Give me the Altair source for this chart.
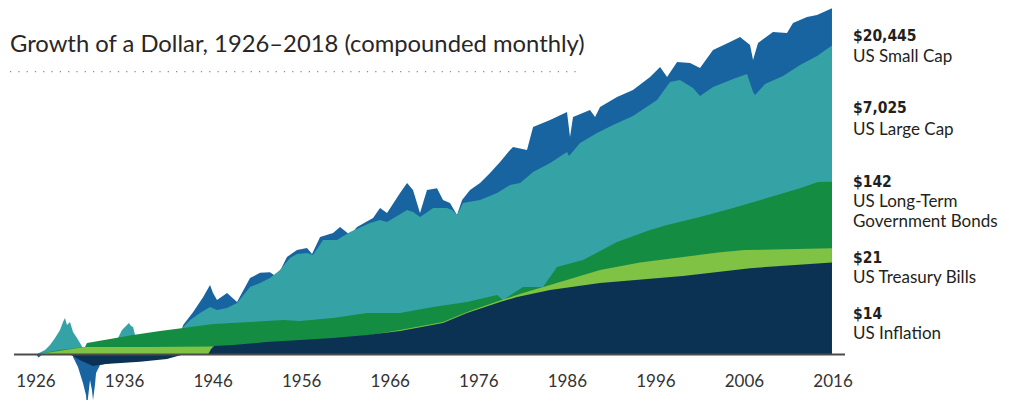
import altair as alt
import pandas as pd

# ---------------- data (growth of $1) ----------------
small_years = [1926.0, 1926.3, 1926.6, 1927.0, 1928.15, 1929.05, 1929.27, 1929.84, 1930.18, 1930.74,
               1931.31, 1931.65, 1931.76, 1931.87, 1932.10, 1932.32, 1932.44, 1932.66, 1932.78, 1933.23,
               1934.36, 1934.92, 1935.26, 1936.5, 1937.2, 1938.5, 1940.0, 1941.5, 1942.2, 1942.62,
               1943.75, 1944.88, 1945.65, 1945.99, 1946.44, 1947.57, 1948.70, 1950.17, 1951.30, 1952.42,
               1953.21, 1954.34, 1955.47, 1956.60, 1957.17, 1958.08, 1959.54, 1960.33, 1961.46, 1962.25,
               1964.06, 1964.85, 1965.64, 1967.11, 1967.90, 1968.57, 1969.36, 1970.15, 1971.28, 1971.96,
               1972.75, 1973.54, 1974.11, 1975.01, 1976.14, 1977.27, 1978.40, 1979.53, 1979.87, 1981.44,
               1982.13, 1984.05, 1985.96, 1986.30, 1986.64, 1988.56, 1989.13, 1989.69, 1991.61, 1993.41,
               1995.34, 1996.47, 1997.26, 1998.39, 1999.86, 2000.98, 2002.45, 2004.37, 2005.50, 2006.63,
               2006.97, 2007.53, 2009.22, 2010.80, 2011.48, 2013.06, 2014.19, 2015.88]
small_vals = [1.00, 0.92, 0.98, 1.08, 1.45, 2.1, 2.3, 1.9, 0.93, 0.70,
              0.44, 0.31, 0.216, 0.287, 0.48, 0.36, 0.27, 0.42, 0.59, 0.74,
              0.78, 0.80, 0.96, 1.9, 1.3, 1.2, 1.3, 1.4, 1.7, 2.33,
              3.38, 5.20, 7.34, 5.83, 4.77, 5.83, 4.51, 8.97, 10.4, 10.6,
              9.23, 16.4, 20.0, 21.2, 17.9, 29.1, 32.6, 38.7, 30.8, 38.7,
              50.1, 66.7, 57.8, 103, 137, 112, 57.8, 112, 118, 84.0,
              77.1, 54.6, 84.0, 112, 137, 182, 249, 352, 384, 352,
              681, 832, 1047, 512, 907, 1107, 907, 1208, 1611, 1968,
              2858, 3804, 2858, 4395, 4266, 3698, 6194, 7796, 8995, 7145,
              4645, 7568, 10380, 10090, 13430, 15960, 16900, 20445]

large_years = [1926.0, 1927.02, 1927.58, 1928.15, 1928.71, 1929.05, 1929.27, 1929.50, 1929.84, 1930.18,
               1930.63, 1930.97, 1931.31, 1931.65, 1932.10, 1932.66, 1933.23, 1934.13, 1934.70, 1935.26,
               1935.71, 1936.16, 1936.50, 1936.73, 1936.96, 1937.18, 1937.52, 1938.31, 1939.44, 1940.58,
               1941.71, 1942.62, 1943.41, 1944.52, 1945.65, 1946.44, 1947.57, 1948.70, 1950.17, 1951.30,
               1952.42, 1953.55, 1954.68, 1955.47, 1956.60, 1957.28, 1958.42, 1959.99, 1961.46, 1963.72,
               1964.85, 1965.64, 1967.9, 1968.59, 1969.38, 1970.84, 1972.41, 1973.0, 1973.54, 1974.22,
               1976.14, 1978.06, 1979.53, 1980.66, 1982.13, 1984.05, 1985.96, 1986.19, 1987.43, 1989.35,
               1991.15, 1993.41, 1996.12, 1997.59, 1998.72, 2000.19, 2000.98, 2002.45, 2004.71, 2006.29,
               2006.97, 2007.19, 2008.32, 2010.35, 2012.27, 2014.19, 2015.88]
large_vals = [1.00, 1.14, 1.31, 1.60, 2.02, 2.54, 2.85, 2.33, 2.54, 1.91,
              1.60, 1.39, 1.20, 0.96, 0.83, 0.85, 0.90, 1.07, 1.35, 1.60,
              2.02, 2.26, 2.47, 2.26, 2.20, 1.75, 1.43, 1.52, 1.60, 1.52,
              1.60, 2.20, 2.69, 3.29, 3.90, 3.58, 3.79, 4.38, 6.93, 7.77,
              8.97, 11.3, 15.9, 17.9, 18.4, 17.3, 26.7, 26.7, 33.6, 43.4,
              47.3, 44.7, 63.1, 59.5, 51.6, 66.7, 66.7, 63.1, 54.6, 77.1,
              84.0, 103, 129, 137, 188, 243, 333, 297, 430, 573,
              721, 934, 1476, 2477, 2620, 2083, 1656, 2143, 2698, 3112,
              1858, 1702, 2334, 2938, 4027, 5212, 7025]

bond_years = [1926.0, 1928.71, 1931.53, 1931.76, 1934.36, 1936.95, 1940.0, 1942.62, 1945.99, 1950.17,
              1953.89, 1955.8, 1959.54, 1963.38, 1967.11, 1970.84, 1974.67, 1978.06, 1978.74, 1980.99,
              1983.25, 1984.83, 1987.77, 1991.61, 1995.34, 1997.26, 2000.98, 2004.71, 2008.54, 2012.27,
              2014.30, 2015.88]
bond_vals = [1.00, 1.14, 1.24, 1.39, 1.56, 1.75, 1.96, 2.14, 2.40, 2.54,
             2.69, 2.61, 2.85, 3.29, 3.29, 3.90, 4.51, 5.51, 4.77, 6.93,
             6.93, 12.3, 15.0, 25.2, 35.5, 41.0, 51.6, 66.7, 88.9, 118,
             141, 142]

bill_years = [1926.0, 1928.71, 1931.53, 1938.87, 1945.65, 1950.17, 1955.8, 1959.54, 1963.38, 1967.11,
              1971.96, 1974.67, 1978.40, 1980.99, 1984.05, 1989.69, 1994.2, 1999.06, 2003.0, 2006.0,
              2015.88]
bill_vals = [1.00, 1.11, 1.24, 1.24, 1.26, 1.30, 1.42, 1.55, 1.72, 2.02,
             2.54, 3.38, 4.70, 5.83, 7.34, 11.3, 14.0, 16.4, 18.6, 20.0,
             21.0]

infl_years = [1926.0, 1929.8, 1930.18, 1930.97, 1932.44, 1933.79, 1935.15, 1937.74, 1940.79, 1942.49,
              1945.42, 1945.77, 1946.1, 1948.25, 1952.0, 1955.8, 1959.54, 1963.38, 1967.11, 1971.96,
              1974.67, 1978.40, 1980.32, 1984.05, 1989.69, 1999.06, 2006.63, 2015.88]
infl_vals = [1.00, 1.00, 0.96, 0.85, 0.72, 0.76, 0.78, 0.81, 0.88, 0.99,
             1.00, 1.17, 1.28, 1.31, 1.43, 1.52, 1.60, 1.75, 1.96, 2.47,
             3.29, 4.51, 5.20, 6.36, 7.77, 9.50, 11.9, 14.0]

tick_years = [1926, 1936, 1946, 1956, 1966, 1976, 1986, 1996, 2006, 2016]

end_values = ["$20,445", "$7,025", "$142", "$21", "$14"]
series_names = [["US Small Cap"], ["US Large Cap"], ["US Long-Term", "Government Bonds"],
                ["US Treasury Bills"], ["US Inflation"]]
colors = ["#1764a0", "#35a3a6", "#148c42", "#80c243", "#0b3253"]
title_text = "Growth of a Dollar, 1926\u20132018 (compounded monthly)"

# ---------------- chart ----------------
W, H = 990, 392
xscale = alt.Scale(domain=[1922.838, 2034.628], nice=False, zero=False)
yscale = alt.Scale(type="log", domain=[0.2713, 20660], nice=False)

series = [(small_years, small_vals), (large_years, large_vals), (bond_years, bond_vals),
          (bill_years, bill_vals), (infl_years, infl_vals)]

layers = []
for (yrs, vals), col in zip(series, colors):
    df = pd.DataFrame({"year": yrs, "value": vals})
    layers.append(
        alt.Chart(df).mark_area(color=col, opacity=1, interpolate="linear").encode(
            x=alt.X("year:Q", scale=xscale, axis=None),
            y=alt.Y("value:Q", scale=yscale, axis=None),
            y2=alt.datum(1),
        )
    )

one = pd.DataFrame({"k": [0]})
layers.append(
    alt.Chart(one).mark_rule(color="#4a4a4a", strokeWidth=2).encode(
        x=alt.value(6), x2=alt.value(837), y=alt.datum(1)
    )
)

ticks_df = pd.DataFrame({"year": tick_years})
layers.append(
    alt.Chart(ticks_df).mark_text(font="Lato", fontSize=17, color="#333333",
                                  baseline="middle", align="center").encode(
        x=alt.X("year:Q", scale=xscale, axis=None),
        y=alt.value(373.5),
        text=alt.Text("year:Q", format="d"),
    )
)

layers.append(
    alt.Chart(pd.DataFrame({"t": [title_text]})).mark_text(
        font="Lato", fontSize=23.8, color="#2a2627", align="left", baseline="alphabetic"
    ).encode(x=alt.value(2), y=alt.value(43.7), text="t:N")
)
layers.append(
    alt.Chart(one).mark_rule(color="#8a8a8a", strokeWidth=1.3, strokeDash=[1.2, 7.1]).encode(
        x=alt.value(2), x2=alt.value(570), y=alt.value(63.7)
    )
)

value_baselines = [32.7, 105.0, 178.7, 255.3, 311.0]
name_baselines = [[53.7], [127.0], [198.7, 218.7], [275.3], [331.3]]
for val, vb, names, nbs in zip(end_values, value_baselines, series_names, name_baselines):
    layers.append(
        alt.Chart(pd.DataFrame({"t": [val]})).mark_text(
            font="DejaVu Sans Condensed", fontSize=15.5, fontWeight="bold", color="#231f20",
            align="left", baseline="alphabetic"
        ).encode(x=alt.value(845), y=alt.value(vb), text="t:N")
    )
    for nm, nb in zip(names, nbs):
        layers.append(
            alt.Chart(pd.DataFrame({"t": [nm]})).mark_text(
                font="Lato", fontSize=17, color="#231f20", align="left", baseline="alphabetic"
            ).encode(x=alt.value(845), y=alt.value(nb), text="t:N")
        )

chart = alt.layer(*layers).properties(
    width=W, height=H, autosize=alt.AutoSizeParams(type="none"), padding=0
).configure_view(strokeWidth=0)

chart.save("out.html", embed_options={"renderer": "svg", "actions": False})
